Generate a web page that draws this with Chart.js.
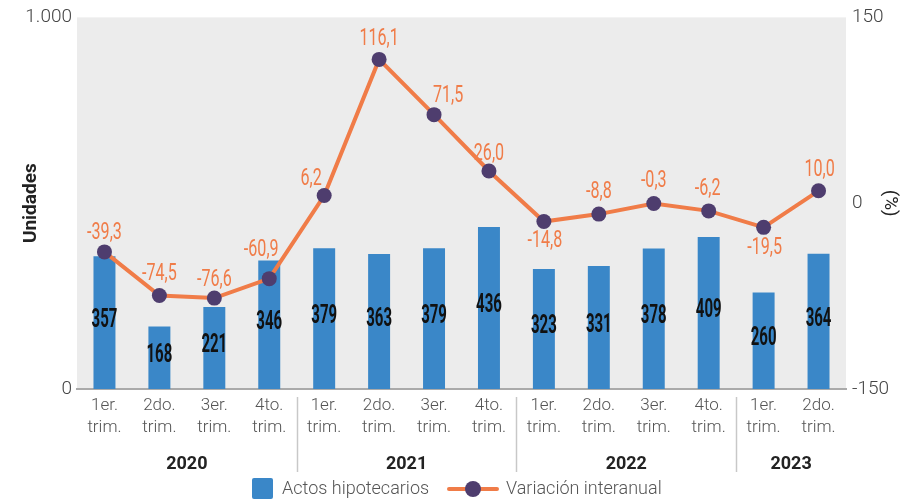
<!DOCTYPE html>
<html>
<head>
<meta charset="utf-8">
<script src="https://cdn.jsdelivr.net/npm/chart.js@4.4.1/dist/chart.umd.min.js"></script>
<style>
html,body{margin:0;padding:0;background:#fff;}
#wrap{width:913px;height:499px;position:relative;}
</style>
</head>
<body>
<div id="wrap"><canvas id="c" width="913" height="499"></canvas></div>
<script>
const quarters = [["1er.","trim."],["2do.","trim."],["3er.","trim."],["4to.","trim."],
  ["1er.","trim."],["2do.","trim."],["3er.","trim."],["4to.","trim."],
  ["1er.","trim."],["2do.","trim."],["3er.","trim."],["4to.","trim."],
  ["1er.","trim."],["2do.","trim."]];
const years = ["2020","2021","2022","2023"];
const yearSizes = [4,4,4,2];
const actos = [357,168,221,346,379,363,379,436,323,331,378,409,260,364];
const variacion = [-39.3,-74.5,-76.6,-60.9,6.2,116.1,71.5,26.0,-14.8,-8.8,-0.3,-6.2,-19.5,10.0];
const leftTicks = [0,1000];
const rightTicks = [-150,0,150];

// label placement offsets for line value labels (style only)
const lineLabelOffsets = [[0,-19],[0,-21],[0,-18],[-8,-28],[-13,-16],[0,-20],[14,-18],[0,-17],
  [1,20],[0,-22],[0,-22],[-1,-22],[1,21],[1,-21]];

const BLUE = '#3a87c8', ORANGE = '#f07c48', PURPLE = '#4e3d6e', GRAY = '#555';
const fmt = v => v.toFixed(1).replace('.', ',');

const bgPlugin = {
  id: 'bg',
  beforeDraw(chart) {
    const {ctx, chartArea: a} = chart;
    ctx.save();
    ctx.fillStyle = '#ececec';
    ctx.fillRect(a.left, a.top, a.right - a.left, a.bottom - a.top);
    ctx.restore();
  }
};

function condText(ctx, text, x, y, font, color, sx) {
  ctx.save();
  ctx.font = font;
  ctx.fillStyle = color;
  ctx.textAlign = 'center';
  ctx.textBaseline = 'middle';
  ctx.translate(x, y);
  ctx.scale(sx, 1);
  ctx.fillText(text, 0, 0);
  ctx.restore();
}

const labelsPlugin = {
  id: 'vlabels',
  afterDatasetsDraw(chart) {
    const ctx = chart.ctx;
    const barMeta = chart.getDatasetMeta(0);
    const xs = chart.scales.x, y = chart.scales.y, y2 = chart.scales.y2;
    barMeta.data.forEach((bar, i) => {
      const cy = (y.getPixelForValue(actos[i]) + y.getPixelForValue(0)) / 2 - 2;
      condText(ctx, String(actos[i]), xs.getPixelForValue(i), cy, 'bold 25px Roboto', '#111', 0.6);
    });
    variacion.forEach((v, i) => {
      const px = xs.getPixelForValue(i), py = y2.getPixelForValue(v);
      const o = lineLabelOffsets[i];
      condText(ctx, fmt(v), px + o[0], py + o[1], '23px Roboto', ORANGE, 0.7);
    });
  },
  afterDraw(chart) {
    const ctx = chart.ctx;
    const xs = chart.scales.x;
    const a = chart.chartArea;
    let start = 0;
    ctx.save();
    years.forEach((yr, k) => {
      const end = start + yearSizes[k] - 1;
      const cx = (xs.getPixelForValue(start) + xs.getPixelForValue(end)) / 2;
      ctx.font = 'bold 18px Roboto';
      ctx.fillStyle = '#222';
      ctx.textAlign = 'center';
      ctx.textBaseline = 'middle';
      ctx.fillText(yr, cx, 464);
      if (k > 0) {
        const sx = Math.round((xs.getPixelForValue(start - 1) + xs.getPixelForValue(start)) / 2) + 0.5;
        ctx.strokeStyle = '#c8c8c8';
        ctx.lineWidth = 1.5;
        ctx.beginPath();
        ctx.moveTo(sx, a.bottom + 8);
        ctx.lineTo(sx, 472);
        ctx.stroke();
      }
      start = end + 1;
    });
    // legend
    ctx.font = '300 18px Roboto';
    ctx.fillStyle = BLUE;
    ctx.beginPath();
    if (ctx.roundRect) ctx.roundRect(252, 478, 21, 21, 2); else ctx.rect(252, 478, 21, 21);
    ctx.fill();
    ctx.fillStyle = GRAY;
    ctx.textAlign = 'left';
    ctx.textBaseline = 'middle';
    ctx.fillText('Actos hipotecarios', 282, 489);
    ctx.strokeStyle = ORANGE;
    ctx.lineWidth = 4;
    ctx.lineCap = 'round';
    ctx.beginPath();
    ctx.moveTo(449, 489); ctx.lineTo(497, 489);
    ctx.stroke();
    ctx.fillStyle = PURPLE;
    ctx.beginPath();
    ctx.arc(473, 489, 8, 0, Math.PI * 2);
    ctx.fill();
    ctx.fillStyle = GRAY;
    ctx.fillText('Variación interanual', 506, 489);
    ctx.restore();
  }
};

new Chart(document.getElementById('c'), {
  data: {
    labels: quarters,
    datasets: [
      {
        type: 'line', label: 'Variación interanual', data: variacion, yAxisID: 'y2',
        borderColor: ORANGE, borderWidth: 4, pointRadius: 7.5, pointBackgroundColor: PURPLE,
        pointBorderColor: PURPLE, pointBorderWidth: 0, tension: 0, order: 0
      },
      {
        type: 'bar', label: 'Actos hipotecarios', data: actos, yAxisID: 'y',
        backgroundColor: BLUE, categoryPercentage: 1, barPercentage: 0.4, order: 1
      }
    ]
  },
  options: {
    responsive: false,
    animation: false,
    layout: { padding: { top: 14, left: 0, right: 0, bottom: 0 } },
    plugins: { legend: { display: false }, tooltip: { enabled: false } },
    scales: {
      x: {
        grid: { display: false, drawTicks: false },
        border: { display: true, color: '#aaa', width: 2 },
        ticks: { color: GRAY, font: { family: 'Roboto', size: 17, weight: '300', lineHeight: 1.27 }, padding: 6, maxRotation: 0, autoSkip: false },
        afterFit(s) { s.height = 110; }
      },
      y: {
        position: 'left', min: 0, max: 1000,
        afterBuildTicks(s) { s.ticks = leftTicks.map(v => ({ value: v })); },
        grid: { display: false, drawTicks: false },
        border: { display: false },
        ticks: { color: '#444', font: { family: 'Roboto', size: 19, weight: '300' }, padding: 5,
          callback: v => v === 1000 ? '1.000' : String(v) },
        title: { display: true, text: 'Unidades', color: '#222', font: { family: 'Roboto', size: 19, weight: 'bold' }, padding: { top: 20, bottom: 0 } },
        afterFit(s) { s.width = 77; }
      },
      y2: {
        position: 'right', min: -150, max: 150,
        afterBuildTicks(s) { s.ticks = rightTicks.map(v => ({ value: v })); },
        grid: { display: false, drawTicks: false },
        border: { display: false },
        ticks: { color: '#444', font: { family: 'Roboto', size: 19, weight: '300' }, padding: 6 },
        title: { display: true, text: '(%)', color: '#222', font: { family: 'Roboto', size: 19, weight: 'normal' }, padding: { top: 12, bottom: 0 } },
        afterFit(s) { s.width = 67; }
      }
    }
  },
  plugins: [bgPlugin, labelsPlugin]
});
</script>
</body>
</html>
